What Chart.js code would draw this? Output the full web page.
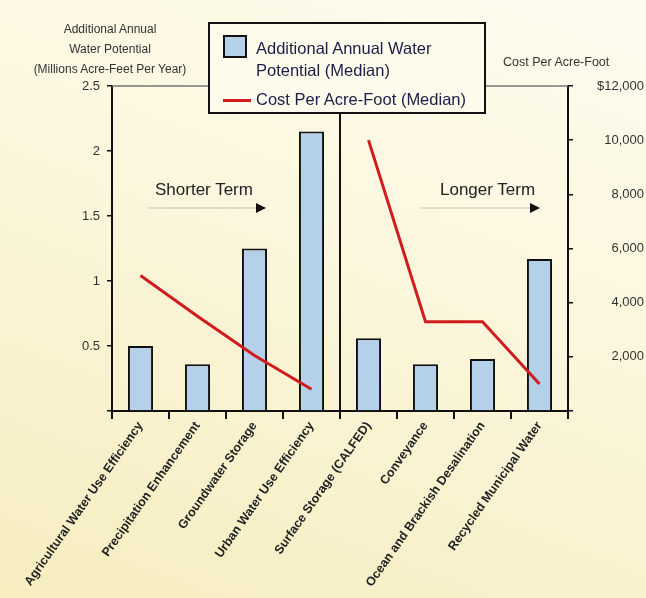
<!DOCTYPE html>
<html>
<head>
<meta charset="utf-8">
<script src="https://cdn.jsdelivr.net/npm/chart.js@4.4.1/dist/chart.umd.min.js"></script>
<style>
  html, body { margin: 0; padding: 0; }
  body {
    width: 646px; height: 598px; overflow: hidden;
    background: linear-gradient(200deg, #fdfbef 0%, #fbf6dc 45%, #f6edbf 100%);
    font-family: "Liberation Sans", Arial, sans-serif;
  }
  #wrap { position: relative; width: 646px; height: 598px; }
  .txt { position: absolute; color: #222; white-space: nowrap; }
  #leftTitle { left: 15px; top: 19px; width: 190px; text-align: center; font-size: 12px; line-height: 20px; color: #333; }
  #rightTitle { left: 503px; top: 55px; font-size: 12.5px; color: #333; }
  #legend {
    position: absolute; left: 208px; top: 22px; width: 274px; height: 88px;
    border: 2px solid #111; background: #fdfbeb; font-size: 16.5px; color: #1c1c48;
  }
  #legend .swatch { position: absolute; left: 13px; top: 11px; width: 20px; height: 19px; background: #b5d1ea; border: 2px solid #111; }
  #legend .ln { position: absolute; left: 13px; top: 75px; width: 28px; height: 3px; background: #d01c1c; }
  #legend .t1 { position: absolute; left: 46px; top: 13px; line-height: 22px; }
  #legend .t2 { position: absolute; left: 46px; top: 66px; }
  .term { font-size: 17px; color: #222; }
</style>
</head>
<body>
<div id="wrap">
  <canvas id="chart" width="646" height="598"></canvas>
  <div class="txt" id="leftTitle">Additional Annual<br>Water Potential<br>(Millions Acre-Feet Per Year)</div>
  <div class="txt" id="rightTitle">Cost Per Acre-Foot</div>
  <div class="txt term" style="left:155px; top:180px;">Shorter Term</div>
  <div class="txt term" style="left:440px; top:180px;">Longer Term</div>
  <div id="legend">
    <div class="swatch"></div>
    <div class="t1">Additional Annual Water<br>Potential (Median)</div>
    <div class="ln"></div>
    <div class="t2">Cost Per Acre-Foot (Median)</div>
  </div>
</div>
<script>
// Water supply strategies: annual potential vs cost

const categories = [
  "Agricultural Water Use Efficiency",
  "Precipitation Enhancement",
  "Groundwater Storage",
  "Urban Water Use Efficiency",
  "Surface Storage (CALFED)",
  "Conveyance",
  "Ocean and Brackish Desalination",
  "Recycled Municipal Water",
];
const waterPotential = [0.5, 0.36, 1.25, 2.15, 0.56, 0.36, 0.4, 1.17];
const costPerAcreFoot = [5000, 3500, 2050, 800, 10000, 3300, 3300, 1000];
const leftTicks = [0, 0.5, 1, 1.5, 2, 2.5];
const rightTicks = [0, 2000, 4000, 6000, 8000, 10000, 12000];

// index after which the line breaks (shorter term | longer term)
const splitIndex = 3;

const plotFrame = {
  id: "plotFrame",
  afterDraw(chart) {
    const { ctx, chartArea, scales } = chart;
    const x = scales.x;
    const midX = (x.getPixelForValue(splitIndex) + x.getPixelForValue(splitIndex + 1)) / 2;
    ctx.save();
    // top border
    ctx.strokeStyle = "#777";
    ctx.lineWidth = 1.5;
    ctx.beginPath();
    ctx.moveTo(chartArea.left, chartArea.top);
    ctx.lineTo(chartArea.right, chartArea.top);
    ctx.stroke();
    // divider
    ctx.strokeStyle = "#111";
    ctx.lineWidth = 2;
    ctx.beginPath();
    ctx.moveTo(midX, chartArea.top);
    ctx.lineTo(midX, chartArea.bottom + 8);
    ctx.stroke();
    // term arrows
    const arrows = [
      [chartArea.left + 36, midX - 78],
      [midX + 80, chartArea.right - 32],
    ];
    const ay = 208;
    arrows.forEach(([x0, x1]) => {
      ctx.strokeStyle = "rgba(150,150,150,0.35)";
      ctx.lineWidth = 1.5;
      ctx.beginPath();
      ctx.moveTo(x0, ay);
      ctx.lineTo(x1 - 4, ay);
      ctx.stroke();
      ctx.fillStyle = "#111";
      ctx.beginPath();
      ctx.moveTo(x1 - 6, ay - 5);
      ctx.lineTo(x1 + 4, ay);
      ctx.lineTo(x1 - 6, ay + 5);
      ctx.closePath();
      ctx.fill();
    });
    ctx.restore();
  },
};

const ctx = document.getElementById("chart").getContext("2d");

new Chart(ctx, {
  data: {
    labels: categories,
    datasets: [
      {
        type: "line",
        label: "Cost Per Acre-Foot (Median)",
        data: costPerAcreFoot,
        yAxisID: "y1",
        borderColor: "#d01c1c",
        borderWidth: 3,
        pointRadius: 0,
        tension: 0,
        segment: {
          borderColor: (c) => (c.p0DataIndex === splitIndex ? "transparent" : "#d01c1c"),
        },
        order: 0,
      },
      {
        type: "bar",
        label: "Additional Annual Water Potential (Median)",
        data: waterPotential,
        yAxisID: "y",
        backgroundColor: "#b5d1ea",
        borderColor: "#111",
        borderWidth: 2,
        categoryPercentage: 1,
        barPercentage: 0.44,
        order: 1,
      },
    ],
  },
  options: {
    responsive: false,
    animation: false,
    layout: { padding: { top: 86, left: 0, right: 2, bottom: 0 } },
    plugins: {
      legend: { display: false },
      tooltip: { enabled: false },
    },
    scales: {
      x: {
        grid: { offset: true, drawOnChartArea: false, tickLength: 8, color: "#111", lineWidth: 2 },
        border: { color: "#111", width: 2 },
        ticks: {
          autoSkip: false,
          minRotation: 55,
          maxRotation: 55,
          padding: 0,
          color: "#222",
          font: { family: "Liberation Sans", size: 12.5, weight: "bold" },
        },
        afterFit: (s) => { s.height = 187; },
      },
      y: {
        position: "left",
        min: 0,
        max: 2.5,
        afterBuildTicks: (s) => { s.ticks = leftTicks.map((v) => ({ value: v })); },
        grid: { drawOnChartArea: false, tickLength: 5, color: "#111", lineWidth: 1.5 },
        border: { color: "#111", width: 2 },
        ticks: {
          padding: 7,
          color: "#333",
          font: { family: "Liberation Sans", size: 13 },
          callback: (v) => (v === 0 ? "" : String(v)),
        },
        afterFit: (s) => { s.width = 112; },
      },
      y1: {
        position: "right",
        min: 0,
        max: 12000,
        afterBuildTicks: (s) => { s.ticks = rightTicks.map((v) => ({ value: v })); },
        grid: { drawOnChartArea: false, tickLength: 5, color: "#111", lineWidth: 1.5 },
        border: { color: "#111", width: 2 },
        ticks: {
          padding: 7,
          crossAlign: "far",
          color: "#333",
          font: { family: "Liberation Sans", size: 13 },
          callback: (v) => (v === 0 ? "" : (v === 12000 ? "$" : "") + v.toLocaleString("en-US")),
        },
        afterFit: (s) => { s.width = 76; },
      },
    },
  },
  plugins: [plotFrame],
});
</script>
</body>
</html>
